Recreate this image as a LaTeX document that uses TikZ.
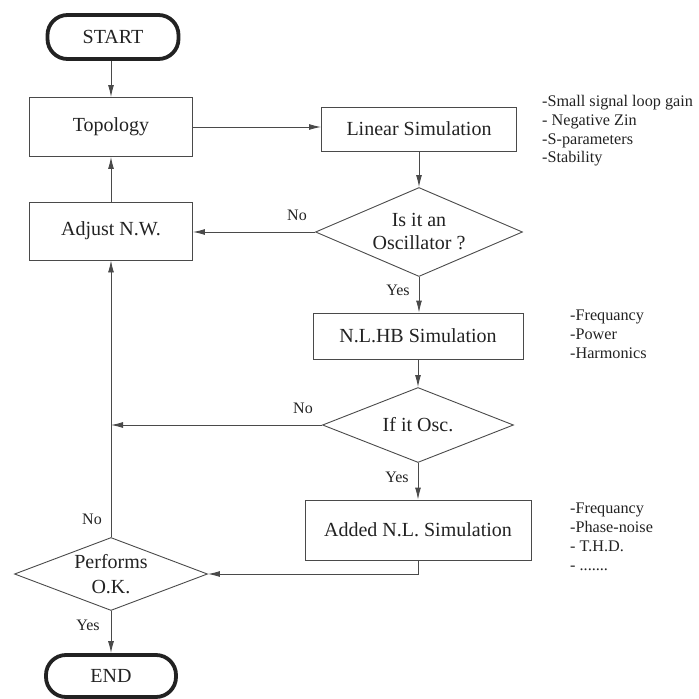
\documentclass[tikz,border=0pt]{standalone}
\usepackage{fontspec}
\IfFontExistsTF{LiberationSerif-Regular.ttf}
  {\setmainfont{LiberationSerif}[Extension=.ttf, UprightFont=*-Regular, BoldFont=*-Bold, ItalicFont=*-Italic, BoldItalicFont=*-BoldItalic]}
  {\setmainfont{Liberation Serif}}
\usetikzlibrary{arrows.meta,shapes.geometric}
\definecolor{ink}{HTML}{222222}
\definecolor{linec}{HTML}{4A4A4A}
\begin{document}
\begin{tikzpicture}[x=1pt,y=-1pt,
  boxtxt/.style={font=\rmfamily\fontsize{20}{23}\selectfont, text=ink},
  procbox/.style={boxtxt, draw=linec, line width=0.9pt, inner sep=0pt},
  term/.style={boxtxt, draw=ink, line width=3.8pt, rounded corners=20pt, inner sep=0pt},
  dec/.style={boxtxt, diamond, draw=linec, line width=0.9pt, inner sep=0pt, align=center},
  lab/.style={font=\rmfamily\fontsize{16}{18}\selectfont, text=ink, inner sep=0pt},
  note/.style={font=\rmfamily\fontsize{16.2}{18.8}\selectfont, text=ink, inner sep=0pt, align=left, anchor=north west},
  arr/.style={draw=linec, line width=0.9pt, -{Latex[length=12pt,width=6pt]}}
]
\useasboundingbox (0,0) rectangle (699,699);

% nodes
\node[term, minimum width=131pt, minimum height=44pt] (start) at (113,37) {START};
\node[procbox, minimum width=163pt, minimum height=59pt] (topo) at (111,127) {Topology};
\node[procbox, minimum width=195pt, minimum height=44pt] (lin) at (419,129) {Linear Simulation};
\node[procbox, minimum width=163pt, minimum height=58pt] (adj) at (111,231) {Adjust N.W.};
\node[dec, aspect=2.33, minimum width=207pt, minimum height=89pt] (d1) at (419,232) {Is it an\\Oscillator ?};
\node[procbox, minimum width=210pt, minimum height=46pt] (nlhb) at (418,336) {N.L.HB Simulation};
\node[dec, aspect=2.55, minimum width=191pt, minimum height=75pt] (d2) at (418,425) {If it Osc.};
\node[procbox, minimum width=226pt, minimum height=60pt] (added) at (418,530) {Added N.L. Simulation};
\node[dec, aspect=2.64, minimum width=193pt, minimum height=73pt, font=\rmfamily\fontsize{20}{25}\selectfont] (d3) at (111,574) {Performs\\O.K.};
\node[term, minimum width=130pt, minimum height=42pt] (endn) at (111,676) {END};

\coordinate (j2) at (111,425);

% connectors
\draw[arr] (start.south -| topo.north) -- (topo.north);
\draw[arr] (topo.east) -- (topo.east -| lin.west);
\draw[arr] (lin.south) -- (d1.north);
\draw[arr] (d1.west) -- (d1.west -| adj.east);
\draw[arr] (adj.north) -- (topo.south);
\draw[arr] (d1.south) -- (nlhb.north -| d1.south);
\draw[arr] (nlhb.south) -- (d2.north);
\draw[arr] (d2.west) -- (j2);
\draw[arr] (d2.south) -- (added.north);
\draw[arr] (added.south) |- (d3.east);
\draw[arr] (d3.north) -- (adj.south);
\draw[arr] (d3.south) -- (endn.north);

% labels
\node[lab] at (297,215) {No};
\node[lab] at (398,290) {Yes};
\node[lab] at (303,408) {No};
\node[lab] at (397,477) {Yes};
\node[lab] at (92,519) {No};
\node[lab] at (88,625) {Yes};

% notes
\node[note] (n1) at (542,95) {-Small signal loop gain\\- Negative Zin\\-S-parameters\\-Stability};
\node[note] (n2) at (570,310) {-Frequancy\\-Power\\-Harmonics};
\node[note] (n3) at (570,503) {-Frequancy\\-Phase-noise\\- T.H.D.\\- .......};
\end{tikzpicture}
\end{document}
